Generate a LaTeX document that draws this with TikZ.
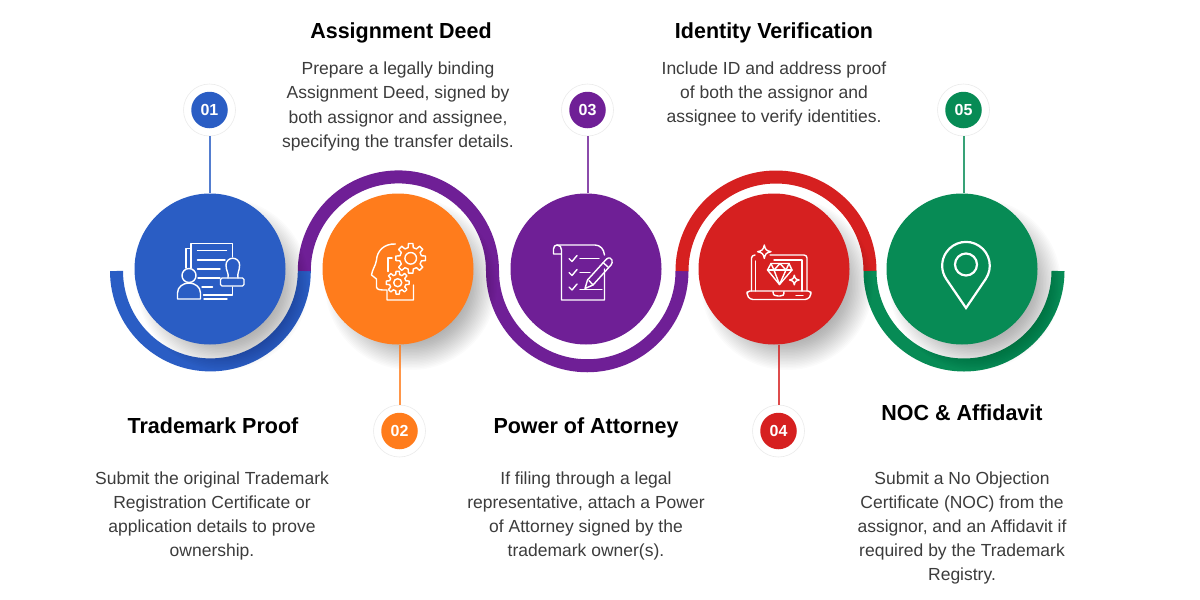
\documentclass[tikz,border=0pt]{standalone}
\usepackage{fontspec}
\setmainfont{Liberation Sans}
\newfontfamily\headfont[FakeStretch=0.985]{Liberation Sans}
\definecolor{cblue}{HTML}{2A5DC4}
\definecolor{corange}{HTML}{FF7C1C}
\definecolor{cpurple}{HTML}{6F1F96}
\definecolor{cred}{HTML}{D62020}
\definecolor{cgreen}{HTML}{078B55}
\definecolor{ctext}{HTML}{3C3C3C}
\newcommand{\softshadow}[2]{%
  \foreach \rr in {50,51.5,...,87}{\fill[black,opacity=0.014] (#1+13,#2+15) circle[radius=\rr];}}
\newcommand{\gearicon}[6]{% cx cy ro ri hole n
  \begin{scope}[shift={(#1,#2)}]
    \pgfmathsetmacro{\stepa}{360/#6}
    \pgfmathsetmacro{\wa}{\stepa*0.30}
    \pgfmathsetmacro{\wb}{\stepa*0.19}
    \draw[iconline] (-\wa:#4) \foreach \k in {1,...,#6}{
      -- ({(\k-1)*\stepa-\wb}:#3) -- ({(\k-1)*\stepa+\wb}:#3) -- ({(\k-1)*\stepa+\wa}:#4)
      -- ({\k*\stepa-\wa}:#4)} -- cycle;
    \draw[iconline] (0,0) circle[radius=#5];
  \end{scope}}
\newcommand{\sparkle}[3]{%
  \draw[iconline,line join=round] (#1,#2-#3) .. controls (#1+.15*#3,#2-.3*#3) and (#1+.3*#3,#2-.15*#3) .. (#1+#3,#2)
    .. controls (#1+.3*#3,#2+.15*#3) and (#1+.15*#3,#2+.3*#3) .. (#1,#2+#3)
    .. controls (#1-.15*#3,#2+.3*#3) and (#1-.3*#3,#2+.15*#3) .. (#1-#3,#2)
    .. controls (#1-.3*#3,#2-.15*#3) and (#1-.15*#3,#2-.3*#3) .. cycle;}
\tikzset{
  bigdisc/.style={circle,minimum size=151pt,inner sep=0pt,draw=none},
  ringdisc/.style={circle,minimum size=52pt,inner sep=0pt,draw=black!8,line width=.6pt,fill=white},
  badgedisc/.style={circle,minimum size=36.5pt,inner sep=0pt,text=white,font=\fontsize{16}{16}\selectfont\bfseries},
  stem/.style={line width=2pt,opacity=.8},
  band/.style={line width=13pt},
  iconline/.style={draw=white,line width=1.4pt,line join=round,line cap=round},
  headtext/.style={font=\headfont\fontsize{21.8}{26}\selectfont\bfseries,text=black,inner sep=0pt,text height=16pt,text depth=5pt},
  bodytext/.style={font=\fontsize{17.5}{24.2}\selectfont,text=ctext,align=center,inner sep=0pt},
}
\begin{document}
\begin{tikzpicture}[x=1pt,y=-1pt]
\useasboundingbox (0,0) rectangle (1200,600);
\fill[white] (0,0) rectangle (1200,600);
% bands
\draw[band,cblue]   (116.5,271) arc[start angle=180,end angle=0,radius=93.9];
\draw[band,cpurple] (304.3,271) arc[start angle=180,end angle=360,radius=94.1];
\draw[band,cpurple] (492.5,271) arc[start angle=180,end angle=0,radius=94.75];
\draw[band,cred]    (682,271) arc[start angle=180,end angle=360,radius=94];
\draw[band,cgreen]  (870,271) arc[start angle=180,end angle=0,radius=94];
% shadows
\softshadow{210}{269}
\softshadow{398}{269}
\softshadow{774}{269}
\softshadow{962}{269}
% discs
\node[bigdisc,fill=cblue]   (c1) at (210,269) {};
\node[bigdisc,fill=corange] (c2) at (398,269) {};
\node[bigdisc,fill=cpurple] (c3) at (586,269) {};
\node[bigdisc,fill=cred]    (c4) at (774,269) {};
\node[bigdisc,fill=cgreen]  (c5) at (962,269) {};
% badges
\node[ringdisc] (r1) at (209.5,110) {};
\node[ringdisc] (r2) at (399.5,431) {};
\node[ringdisc] (r3) at (587.5,110) {};
\node[ringdisc] (r4) at (778.5,431) {};
\node[ringdisc] (r5) at (963.5,110) {};
\node[badgedisc,fill=cblue]   (b1) at (209.5,110) {01};
\node[badgedisc,fill=corange] (b2) at (399.5,431) {02};
\node[badgedisc,fill=cpurple] (b3) at (587.5,110) {03};
\node[badgedisc,fill=cred]    (b4) at (778.5,431) {04};
\node[badgedisc,fill=cgreen]  (b5) at (963.5,110) {05};
% stems
\draw[stem,cblue]   (r1.south) -- (r1.south |- c1.north);
\draw[stem,corange] (r2.north) -- (r2.north |- c2.south);
\draw[stem,cpurple] (r3.south) -- (r3.south |- c3.north);
\draw[stem,cred]    (r4.north) -- (r4.north |- c4.south);
\draw[stem,cgreen]  (r5.south) -- (r5.south |- c5.north);
% icon 1: documents, person, stamp
\draw[iconline] (191,248.5) -- (186,248.5) -- (186,268);
\draw[iconline] (191,268) -- (191,243.5) -- (232.5,243.5) -- (232.5,257);
\draw[iconline] (232.5,287) -- (232.5,295) -- (203.5,295);
\draw[iconline] (227,299) -- (204,299);
\draw[iconline] (197.5,250.5) -- (226.5,250.5);
\draw[iconline] (197.5,260) -- (225,260);
\draw[iconline] (197.5,269) -- (220,269);
\draw[iconline] (198,278) -- (220,278);
\draw[iconline] (202,287) -- (212.5,287);
\draw[iconline,rounded corners=1.5pt] (220.5,278) rectangle (244,286);
\draw[iconline] (228,278) .. controls (229,273) and (226,271) .. (226,265) arc[start angle=180,end angle=360,radius=6.8]
  .. controls (239.6,271) and (237,273) .. (238,278);
\draw[iconline] (189,275.5) circle[radius=7];
\draw[iconline] (177.5,299) -- (177.5,293) .. controls (177.5,287) and (183,283) .. (189,283)
  .. controls (195,283) and (200.5,287) .. (200.5,293) -- (200.5,299) -- cycle;
% icon 2: head with gears
\draw[iconline] (395.5,244) .. controls (384,243.5) and (377,251) .. (376.5,260)
  .. controls (376,265) and (372,270) .. (371.5,275) -- (376.5,279) -- (376.5,287)
  .. controls (377,290) and (380,290) .. (387,290) -- (387,300) -- (413.5,300) -- (413.5,285);
\draw[iconline] (392,258) -- (388,258) -- (388,271.5);
\gearicon{410.7}{258.3}{15}{11}{5.8}{8}
\gearicon{397.7}{282.7}{11.5}{8.3}{4}{8}
% icon 3: checklist and pencil
\draw[iconline] (557,245) -- (595,245) .. controls (600,245) and (604,249) .. (604.5,255);
\draw[iconline] (561.5,254) -- (553.5,254) -- (553.5,249) .. controls (553.5,246.5) and (555,245) .. (557,245)
  .. controls (560,245) and (561.5,247) .. (561.5,250) -- (561.5,300) -- (604.5,300) -- (604.5,269);
\draw[iconline] (569,258.5) -- (572,261.5) -- (577,255.5);
\draw[iconline] (569,272.5) -- (572,275.5) -- (577,269.5);
\draw[iconline] (569,287) -- (572,290) -- (577,284);
\draw[iconline] (580,258.5) -- (599,258.5);
\draw[iconline] (580,272.5) -- (590,272.5);
\draw[iconline] (580,289.5) -- (602,289.5);
\draw[iconline] (585,288.5) -- (587.5,280) -- (606.5,259) .. controls (609,257) and (611.5,258) .. (612,260)
  .. controls (612.5,262) and (612,264) .. (611,265) -- (593,285) -- cycle;
\draw[iconline] (589,280.5) -- (593,285);
\draw[iconline] (603,262.5) -- (608,267);
% icon 4: laptop, diamond and sparkles
\draw[iconline] (755,255) .. controls (753,255) and (751.5,256.5) .. (751.5,258) -- (751.5,291);
\draw[iconline] (770,255) -- (804,255) .. controls (806,255) and (807,256.5) .. (807,258) -- (807,291);
\draw[iconline] (755.5,261) -- (755.5,291);
\draw[iconline] (774,260) -- (802,260) -- (802,291);
\draw[iconline,rounded corners=3pt] (747,291) -- (811,291) -- (811,295) -- (808,299.5) -- (750,299.5) -- (747,295) -- cycle;
\draw[iconline] (773,291.5) .. controls (773,295.5) and (775,296) .. (778,296) -- (780,296) .. controls (783,296) and (784,295.5) .. (784,291.5);
\draw[iconline] (796,295.5) -- (803,295.5);
\sparkle{764.3}{251.7}{6.7}
\sparkle{794.3}{280}{4.8}
\draw[iconline] (771,263.5) -- (789,263.5) -- (792,270) -- (779.5,284.5) -- (767.5,270) -- cycle;
\draw[iconline] (767.5,270) -- (792,270);
\draw[iconline] (771,263.5) -- (774,270) -- (779.5,284.5) -- (786,270) -- (789,263.5);
\draw[iconline] (774,270) -- (780,263.5) -- (786,270);
% icon 5: map pin
\draw[draw=white,line width=2.2pt,line join=miter] (985.7,279) arc[start angle=34,end angle=-214,radius=23.8] -- (966,308) -- cycle;
\draw[draw=white,line width=2.2pt] (966,264.5) circle[radius=11];
% texts
\node[headtext] (t2) at (401,33) {Assignment Deed};
\node[headtext] (t4) at (774,33) {Identity Verification};
\node[headtext] (t1) at (213,428) {Trademark Proof};
\node[headtext] (t3) at (586,428) {Power of Attorney};
\node[headtext] (t5) at (962,415) {NOC \& Affidavit};
\node[bodytext] (d2) at (398,106.5) {Prepare a legally binding\\Assignment Deed, signed by\\both assignor and assignee,\\specifying the transfer details.};
\node[bodytext] (d4) at (774,94) {Include ID and address proof\\of both the assignor and\\assignee to verify identities.};
\node[bodytext] (d1) at (212,516) {Submit the original Trademark\\Registration Certificate or\\application details to prove\\ownership.};
\node[bodytext] (d3) at (586,516) {If filing through a legal\\representative, attach a Power\\of Attorney signed by the\\trademark owner(s).};
\node[bodytext] (d5) at (962,528) {Submit a No Objection\\Certificate (NOC) from the\\assignor, and an Affidavit if\\required by the Trademark\\Registry.};
\end{tikzpicture}
\end{document}
